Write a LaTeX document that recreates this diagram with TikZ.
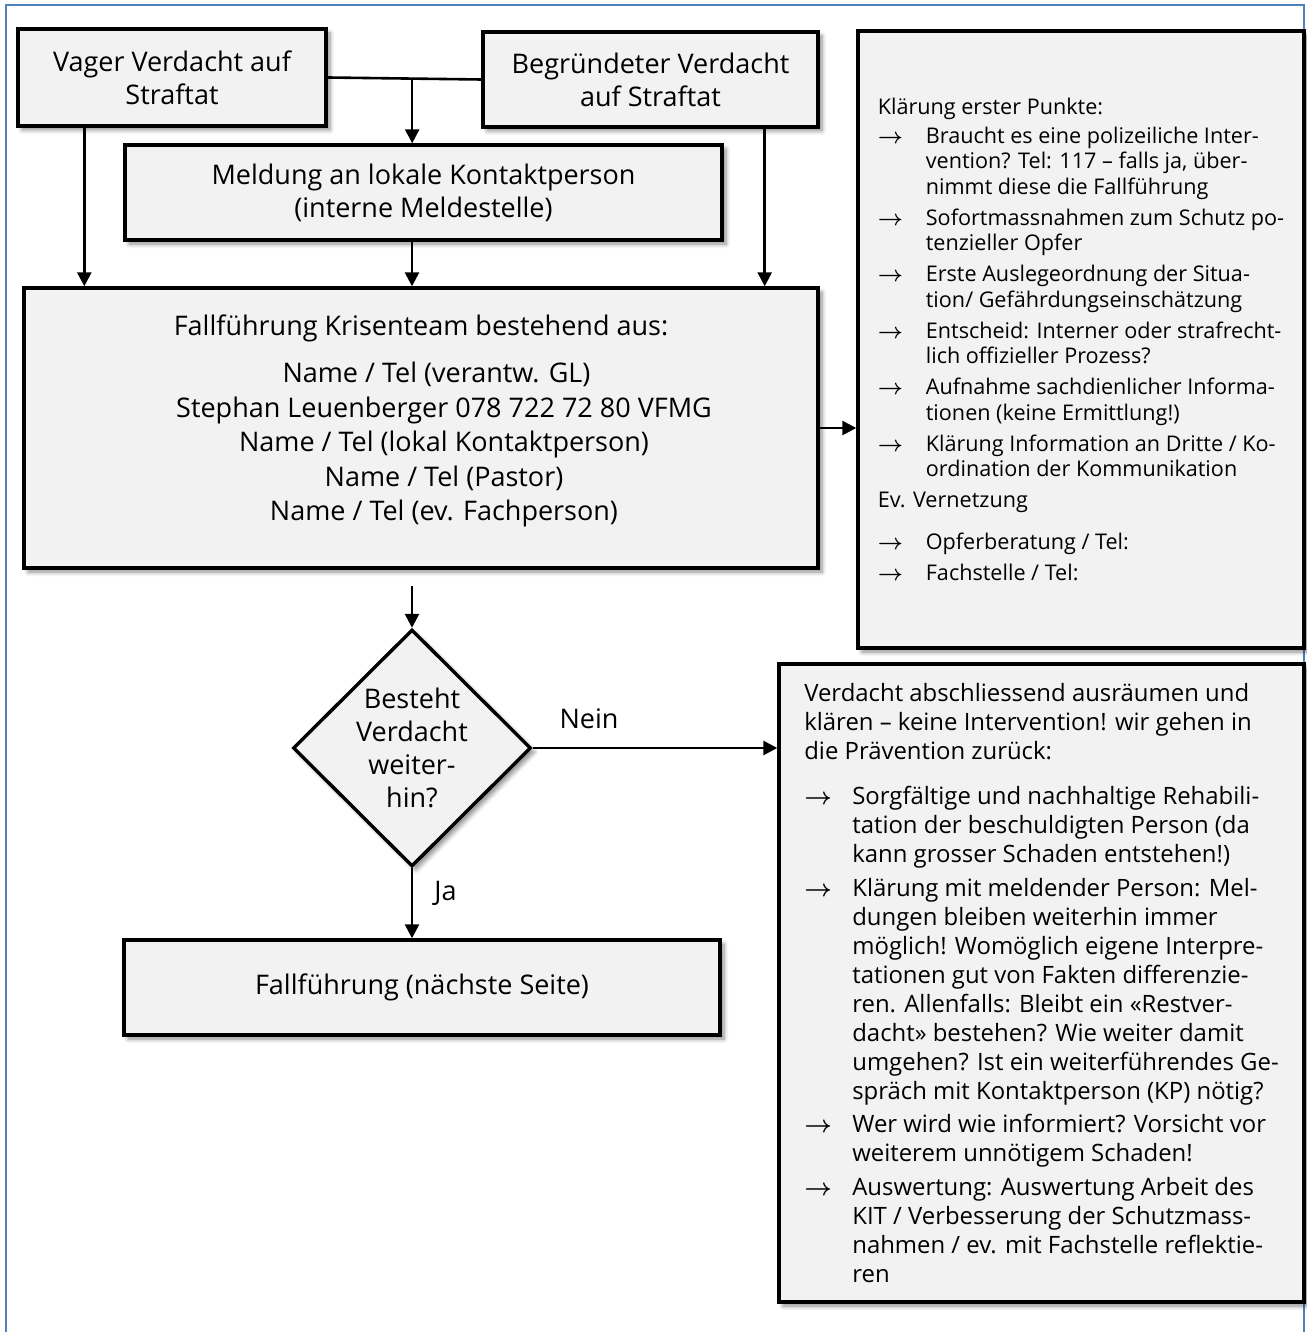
\documentclass[tikz,border=0pt]{standalone}
\usepackage{fontspec}
\setmainfont{Open Sans}
\usepackage{tikz}
\usetikzlibrary{arrows.meta, positioning, calc, shapes.geometric, shadows.blur}
\definecolor{framecol}{HTML}{4F81BD}
\definecolor{boxfill}{HTML}{F2F2F2}

\newcommand{\itemarrow}{\makebox[24pt][l]{\boldmath$\rightarrow$}}
\newcommand{\itemgap}{\hspace*{24pt}}
\newcommand{\nameshift}{\hspace*{23pt}}

\begin{document}
\begin{tikzpicture}[
    x=0.5pt, y=-0.5pt,
    >={Triangle[length=7pt, width=7pt]},
    box/.style={draw, line width=1.7pt, fill=boxfill, align=center, inner sep=0pt,
        font=\fontsize{13.5}{16.5}\selectfont,
        blur shadow={shadow xshift=2pt, shadow yshift=-2pt, shadow blur steps=6, shadow opacity=45}},
    decision/.style={box, diamond, aspect=1},
    arrow/.style={->, line width=1.3pt},
    label/.style={font=\fontsize{13.5}{16.5}\selectfont, inner sep=2pt},
]
    \useasboundingbox (0,0) rectangle (1306,1332);
    \draw[framecol, line width=1pt] (6,1340) -- (6,5) -- (1304,5) -- (1304,1340);

    \node[box, minimum width=154pt, minimum height=48.5pt] (vague) at (172,77.5) {Vager Verdacht auf\\Straftat};
    \node[box, minimum width=167.5pt, minimum height=47.5pt] (founded) at (650.5,79.5) {Begründeter Verdacht\\auf Straftat};
    \node[box, minimum width=298.5pt, minimum height=47.5pt] (report) at (423.5,192.5) {Meldung an lokale Kontaktperson\\(interne Meldestelle)};
    \node[box, font=\fontsize{13.5}{17.25}\selectfont, minimum width=397pt, minimum height=140pt] (team) at (421,428) {%
        Fallführung Krisenteam bestehend aus:\\[6.5pt]
        \hspace*{15.5pt}Name / Tel (verantw. GL)\\
        \nameshift Stephan Leuenberger 078 722 72 80 VFMG\\
        \nameshift Name / Tel (lokal Kontaktperson)\\
        \nameshift Name / Tel (Pastor)\\
        \nameshift Name / Tel (ev. Fachperson)\\[-7pt]\mbox{}};
    \node[box, align=left, font=\fontsize{10.8}{12.75}\selectfont, minimum width=223pt, minimum height=308.5pt] (points) at (1081,339.5) {%
        Klärung erster Punkte:\\[1.75pt]
        \itemarrow Braucht es eine polizeiliche Inter-\\
        \itemgap vention? Tel: 117 – falls ja, über-\\
        \itemgap nimmt diese die Fallführung\\[2.75pt]
        \itemarrow Sofortmassnahmen zum Schutz po-\\
        \itemgap tenzieller Opfer\\[2.75pt]
        \itemarrow Erste Auslegeordnung der Situa-\\
        \itemgap tion/ Gefährdungseinschätzung\\[2.75pt]
        \itemarrow Entscheid: Interner oder strafrecht-\\
        \itemgap lich offizieller Prozess?\\[2.75pt]
        \itemarrow Aufnahme sachdienlicher Informa-\\
        \itemgap tionen (keine Ermittlung!)\\[2.75pt]
        \itemarrow Klärung Information an Dritte / Ko-\\
        \itemgap ordination der Kommunikation\\[2.75pt]
        Ev. Vernetzung\\[8.25pt]
        \itemarrow Opferberatung / Tel:\\[2.75pt]
        \itemarrow Fachstelle / Tel:};
    \node[decision, minimum width=119pt, minimum height=118.5pt] (check) at (412,748) {Besteht\\Verdacht\\weiter-\\hin?};
    \node[box, align=left, font=\fontsize{11.95}{14.5}\selectfont, minimum width=262.5pt, minimum height=319pt] (clear) at (1041.5,983) {%
        Verdacht abschliessend ausräumen und\\
        klären – keine Intervention! wir gehen in\\
        die Prävention zurück:\\[8pt]
        \itemarrow Sorgfältige und nachhaltige Rehabili-\\
        \itemgap tation der beschuldigten Person (da\\
        \itemgap kann grosser Schaden entstehen!)\\[2.25pt]
        \itemarrow Klärung mit meldender Person: Mel-\\
        \itemgap dungen bleiben weiterhin immer\\
        \itemgap möglich! Womöglich eigene Interpre-\\
        \itemgap tationen gut von Fakten differenzie-\\
        \itemgap ren. Allenfalls: Bleibt ein «Restver-\\
        \itemgap dacht» bestehen? Wie weiter damit\\
        \itemgap umgehen? Ist ein weiterführendes Ge-\\
        \itemgap spräch mit Kontaktperson (KP) nötig?\\[2.25pt]
        \itemarrow Wer wird wie informiert? Vorsicht vor\\
        \itemgap weiterem unnötigem Schaden!\\[2.25pt]
        \itemarrow Auswertung: Auswertung Arbeit des\\
        \itemgap KIT / Verbesserung der Schutzmass-\\
        \itemgap nahmen / ev. mit Fachstelle reflektie-\\
        \itemgap ren};
    \node[box, minimum width=298pt, minimum height=47.5pt] (next) at (422,987.5) {Fallführung (nächste Seite)};

    % connectors
    \coordinate (split) at ($(vague.east)!0.55!(founded.west)$);
    \draw[line width=1.3pt] (vague.east) -- (founded.west);
    \draw[arrow] (split) -- (split |- report.north);
    \draw[arrow] ([xshift=34pt]vague.south west) -- ([xshift=34pt]vague.south west |- team.north);
    \draw[arrow] ([xshift=-27.5pt]founded.south east) -- ([xshift=-27.5pt]founded.south east |- team.north);
    \draw[arrow] (report.south -| check.north) -- (check.north |- team.north);
    \draw[arrow] (team.east) -- (team.east -| points.west);
    \draw[arrow] ($(check.north |- team.south)+(0,16)$) -- (check.north);
    \draw[arrow] (check.east) -- (check.east -| clear.west) node[label, pos=0.23, above=7pt] (no) {Nein};
    \draw[arrow] (check.south) -- (check.south |- next.north) node[label, pos=0.36, right=8.5pt] (yes) {Ja};
\end{tikzpicture}
\end{document}
